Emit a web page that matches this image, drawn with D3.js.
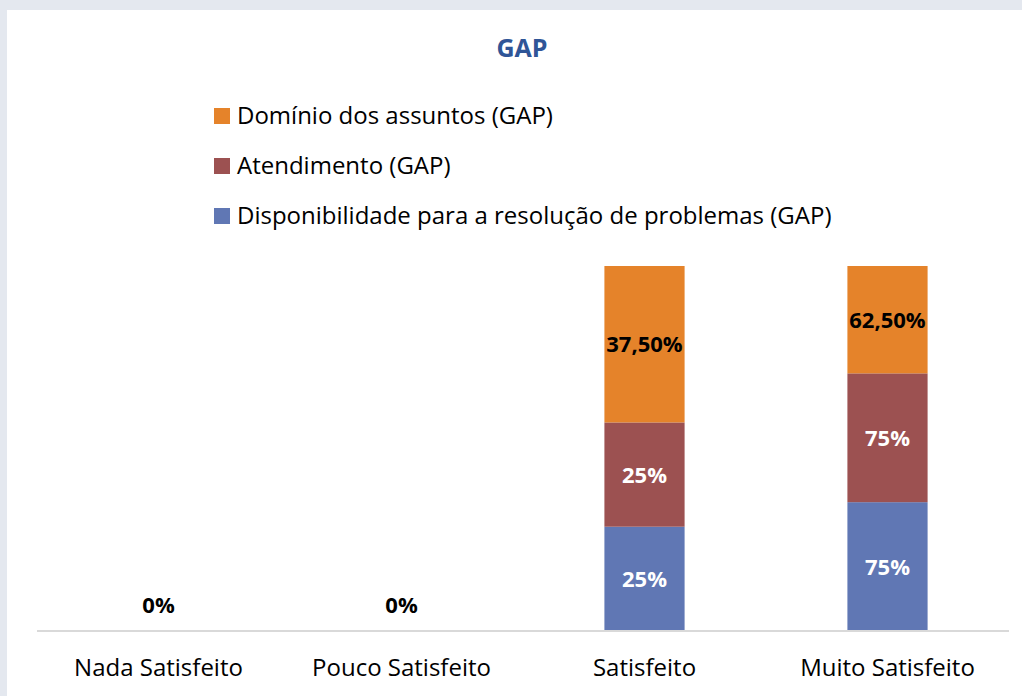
<!DOCTYPE html>
<html>
<head>
<meta charset="utf-8">
<script src="https://cdn.jsdelivr.net/npm/d3@7"></script>
<style>
  html, body { margin: 0; padding: 0; background: #e4e8ef; }
  svg { display: block; }
</style>
</head>
<body>
<svg id="chart" width="1022" height="696"></svg>
<script>
const categories = ["Nada Satisfeito", "Pouco Satisfeito", "Satisfeito", "Muito Satisfeito"];
const seriesNames = ["Disponibilidade para a resolução de problemas (GAP)", "Atendimento (GAP)", "Domínio dos assuntos (GAP)"];
const disponibilidade = [0, 0, 25, 75];
const atendimento = [0, 0, 25, 75];
const dominio = [0, 0, 37.5, 62.5];
const seriesColors = ["#6077B4", "#9C5151", "#E5832A"];
const labelColors = ["#ffffff", "#ffffff", "#000000"];
const labelDecimals = [0, 0, 2];
const title = "GAP";

const FONT = "'Open Sans', 'Noto Sans', sans-serif";
const svg = d3.select("#chart");
const W = 1022, H = 696;

svg.append("rect").attr("x", 7).attr("y", 10).attr("width", W - 7).attr("height", H - 10).attr("fill", "#ffffff");

const seriesValues = [disponibilidade, atendimento, dominio];
const table = categories.map((c, i) => {
  const o = { cat: c };
  seriesNames.forEach((s, j) => o[s] = seriesValues[j][i]);
  return o;
});

const stack = d3.stack().keys(seriesNames).offset(d3.stackOffsetExpand);
const stacked = stack(table);

const x = d3.scaleBand().domain(categories).range([37, 1009]).paddingInner(0.67).paddingOuter(0.335);
const y = d3.scaleLinear().domain([0, 1]).range([631, 266]);

// title
svg.append("text").attr("x", 522).attr("y", 57).attr("text-anchor", "middle")
  .attr("font-family", FONT).attr("font-weight", "bold").attr("font-size", 25)
  .attr("fill", "#2F5597").text(title);

// legend (reverse order)
const legendOrder = [2, 1, 0];
legendOrder.forEach((j, k) => {
  const base = 124 + k * 50;
  svg.append("rect").attr("x", 214).attr("y", base - 16).attr("width", 16).attr("height", 16).attr("fill", seriesColors[j]);
  svg.append("text").attr("x", 237).attr("y", base).attr("font-family", FONT).attr("font-size", 24)
    .attr("fill", "#000").text(seriesNames[j]);
});

// bars
const g = svg.append("g");
stacked.forEach((layer, j) => {
  g.selectAll(null).data(layer).enter().append("rect")
    .attr("x", d => x(d.data.cat))
    .attr("y", d => y(d[1]))
    .attr("width", x.bandwidth())
    .attr("height", d => Math.max(0, y(d[0]) - y(d[1])))
    .attr("fill", seriesColors[j]);
});

// axis
const axis = svg.append("g").attr("transform", "translate(0,631)").call(d3.axisBottom(x).tickSize(0));
axis.select(".domain").attr("stroke", "#d9d9d9").attr("stroke-width", 2).attr("d", "M37,0H1009");
axis.selectAll(".tick text").attr("y", 45).attr("dy", null)
  .attr("font-family", FONT).attr("font-size", 24).attr("fill", "#000");

// data labels
const fmt = (v, dec) => v.toFixed(dec).replace(".", ",") + "%";
stacked.forEach((layer, j) => {
  layer.forEach((d, i) => {
    const v = seriesValues[j][i];
    if (v === 0) return;
    svg.append("text").attr("x", x(d.data.cat) + x.bandwidth() / 2)
      .attr("y", (y(d[0]) + y(d[1])) / 2 + 8)
      .attr("text-anchor", "middle").attr("font-family", FONT).attr("font-weight", "bold")
      .attr("font-size", 22).attr("fill", labelColors[j]).text(fmt(v, labelDecimals[j]));
  });
});
// zero labels for empty categories
categories.forEach((c, i) => {
  const total = seriesValues.reduce((s, arr) => s + arr[i], 0);
  if (total === 0) {
    svg.append("text").attr("x", x(c) + x.bandwidth() / 2).attr("y", 613)
      .attr("text-anchor", "middle").attr("font-family", FONT).attr("font-weight", "bold")
      .attr("font-size", 22).attr("fill", "#000").text("0%");
  }
});
</script>
</body>
</html>
